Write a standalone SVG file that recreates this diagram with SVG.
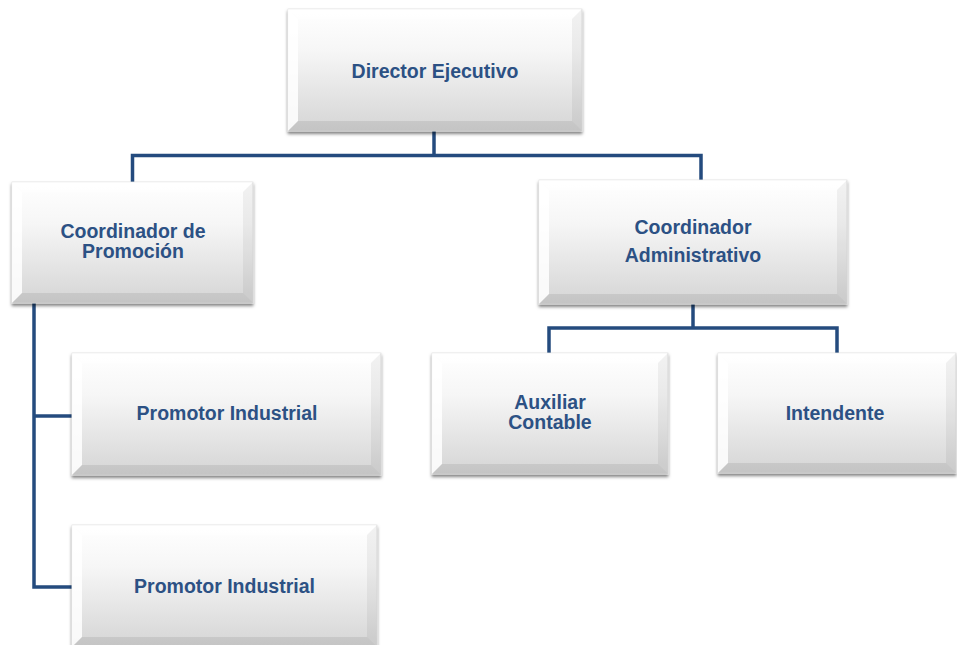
<svg xmlns="http://www.w3.org/2000/svg" width="957" height="645" viewBox="0 0 957 645">
<defs>
<linearGradient id="gFace" x1="0" y1="0" x2="0" y2="1">
<stop offset="0" stop-color="#ffffff"/>
<stop offset="0.35" stop-color="#f6f6f6"/>
<stop offset="1" stop-color="#d5d5d5"/>
</linearGradient>
<filter id="shadow" x="-10%" y="-10%" width="120%" height="130%">
<feDropShadow dx="0" dy="2.5" stdDeviation="1.8" flood-color="#000" flood-opacity="0.5"/>
</filter>
</defs>
<style>
.face{fill:url(#gFace);stroke:#dedede;stroke-width:0.8;filter:url(#shadow)}
.bt{fill:#ffffff;fill-opacity:0.55}
.bl{fill:#ffffff;fill-opacity:0.85}
.br{fill:#000000;fill-opacity:0.05}
.bb{fill:#000000;fill-opacity:0.08}
.lbl{font-family:"Liberation Sans",Arial,sans-serif;font-weight:bold;font-size:19.5px;fill:#2c5184;text-anchor:middle}
.conn{fill:none;stroke:#244b7e;stroke-width:3.5;stroke-linejoin:miter;stroke-linecap:butt}
</style>
<rect width="957" height="645" fill="#ffffff"/>
<g id="connectors">
<path class="conn" d="M434 131 V155.5"/>
<path class="conn" d="M132.5 182 V155.5 H701 V180"/>
<path class="conn" d="M34 303 V587 H72"/>
<path class="conn" d="M34 416 H72"/>
<path class="conn" d="M693 304 V328"/>
<path class="conn" d="M549 353 V328 H837 V353"/>
</g>
<g id="director">
<rect class="face" x="288" y="9" width="294" height="122"/>
<polygon class="bt" points="288,9 582,9 572,19 298,19"/>
<polygon class="bl" points="288,9 298,19 298,121 288,131"/>
<polygon class="br" points="582,9 582,131 572,121 572,19"/>
<polygon class="bb" points="288,131 582,131 572,121 298,121"/>
<text class="lbl" x="435" y="78">Director Ejecutivo</text>
</g>
<g id="coord-promocion">
<rect class="face" x="12" y="182" width="241" height="121"/>
<polygon class="bt" points="12,182 253,182 243,192 22,192"/>
<polygon class="bl" points="12,182 22,192 22,293 12,303"/>
<polygon class="br" points="253,182 253,303 243,293 243,192"/>
<polygon class="bb" points="12,303 253,303 243,293 22,293"/>
<text class="lbl" x="133" y="238">Coordinador de</text>
<text class="lbl" x="133" y="258">Promoción</text>
</g>
<g id="coord-admin">
<rect class="face" x="539" y="180" width="308" height="124"/>
<polygon class="bt" points="539,180 847,180 837,190 549,190"/>
<polygon class="bl" points="539,180 549,190 549,294 539,304"/>
<polygon class="br" points="847,180 847,304 837,294 837,190"/>
<polygon class="bb" points="539,304 847,304 837,294 549,294"/>
<text class="lbl" x="693" y="234">Coordinador</text>
<text class="lbl" x="693" y="262">Administrativo</text>
</g>
<g id="promotor-1">
<rect class="face" x="72" y="353" width="309" height="122"/>
<polygon class="bt" points="72,353 381,353 371,363 82,363"/>
<polygon class="bl" points="72,353 82,363 82,465 72,475"/>
<polygon class="br" points="381,353 381,475 371,465 371,363"/>
<polygon class="bb" points="72,475 381,475 371,465 82,465"/>
<text class="lbl" x="227" y="420">Promotor Industrial</text>
</g>
<g id="promotor-2">
<rect class="face" x="72" y="525" width="305" height="122"/>
<polygon class="bt" points="72,525 377,525 367,535 82,535"/>
<polygon class="bl" points="72,525 82,535 82,637 72,647"/>
<polygon class="br" points="377,525 377,647 367,637 367,535"/>
<polygon class="bb" points="72,647 377,647 367,637 82,637"/>
<text class="lbl" x="224.5" y="593">Promotor Industrial</text>
</g>
<g id="auxiliar">
<rect class="face" x="432" y="353" width="236" height="121"/>
<polygon class="bt" points="432,353 668,353 658,363 442,363"/>
<polygon class="bl" points="432,353 442,363 442,464 432,474"/>
<polygon class="br" points="668,353 668,474 658,464 658,363"/>
<polygon class="bb" points="432,474 668,474 658,464 442,464"/>
<text class="lbl" x="550" y="409">Auxiliar</text>
<text class="lbl" x="550" y="429">Contable</text>
</g>
<g id="intendente">
<rect class="face" x="718" y="353" width="238" height="120"/>
<polygon class="bt" points="718,353 956,353 946,363 728,363"/>
<polygon class="bl" points="718,353 728,363 728,463 718,473"/>
<polygon class="br" points="956,353 956,473 946,463 946,363"/>
<polygon class="bb" points="718,473 956,473 946,463 728,463"/>
<text class="lbl" x="835" y="420">Intendente</text>
</g>
</svg>
